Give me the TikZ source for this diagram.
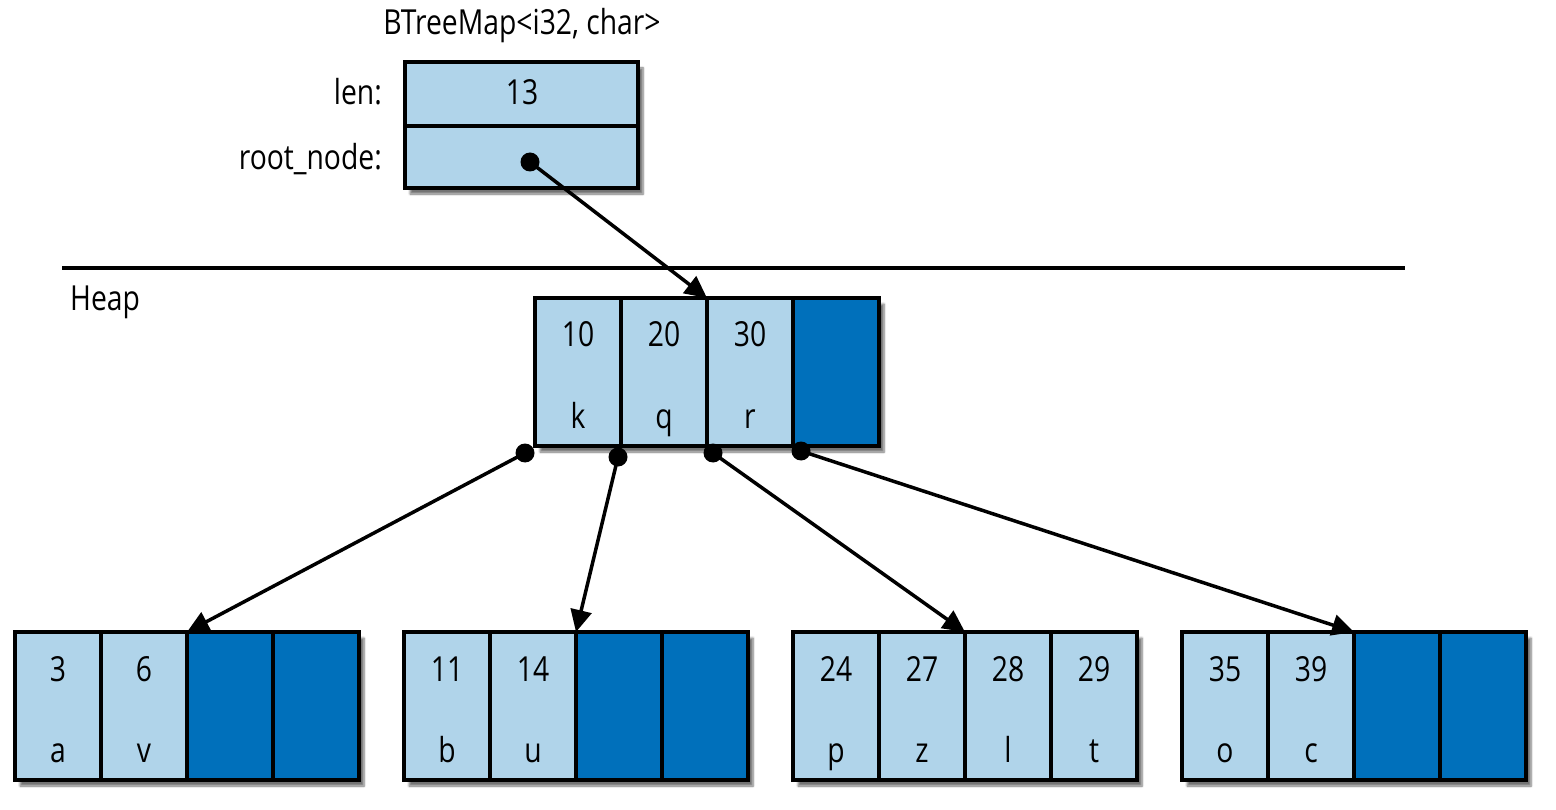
\documentclass[tikz,border=0pt]{standalone}
\usepackage{fontspec}
\setmainfont{Open Sans}[FakeStretch=0.82]
\usetikzlibrary{arrows.meta,shadows.blur}
\definecolor{light}{HTML}{B0D4EA}
\definecolor{dark}{HTML}{0070BB}
\begin{document}
\begin{tikzpicture}[x=1pt,y=-1pt,
 cell/.style={draw=black,line width=4.2pt,minimum width=86pt,minimum height=148pt,inner sep=0pt,outer sep=0pt,anchor=north west},
 full/.style={cell,fill=light},
 emptycell/.style={cell,fill=dark},
 frame/.style={draw=black,line width=4.2pt,fill=white,minimum height=148pt,minimum width=344pt,inner sep=0pt,outer sep=0pt,anchor=north west,
   blur shadow={shadow xshift=5pt,shadow yshift=-6pt,shadow blur steps=6,shadow opacity=55}},
 txt/.style={font=\fontsize{34.5}{40}\selectfont,inner sep=0pt,anchor=base},
 ptr/.style={line width=3.5pt,-{Triangle[length=22pt,width=21pt]}},
 dot/.style={circle,fill=black,minimum size=19pt,inner sep=0pt}
]
\useasboundingbox (0,0) rectangle (1556,810);

% ---- BTreeMap struct ----
\node[txt] (title) at (522,35) {BTreeMap<i32, char>};
\node[frame,minimum width=233pt,minimum height=126pt] (sframe) at (405,62) {};
\node[full,minimum width=233pt,minimum height=64pt] (lencell) at (405,62) {};
\node[full,minimum width=233pt,minimum height=62pt] (rootcell) at (405,126) {};
\node[txt] (lenval) at (522,105) {13};
\node[txt,anchor=base east] (lenlbl) at (382,105) {len:};
\node[txt,anchor=base east] (rootlbl) at (382,170) {root\_node:};
\node[dot] (sdot) at (530,162) {};

% ---- heap separator ----
\coordinate (hl) at (62,268);
\coordinate (hr) at (1405,268);
\draw[line width=3.8pt] (hl) -- (hr);
\node[txt,anchor=base west] (heap) at (70,311) {Heap};

% ---- root node ----
\node[frame] (rframe) at (535,298) {};
\node[full] (r1) at (535,298) {};
\node[full] (r2) at (621,298) {};
\node[full] (r3) at (707,298) {};
\node[emptycell] (r4) at (793,298) {};
\node[txt] (r1k) at (578,347) {10}; \node[txt] (r1v) at (578,428) {k};
\node[txt] (r2k) at (664,347) {20}; \node[txt] (r2v) at (664,428) {q};
\node[txt] (r3k) at (750,347) {30}; \node[txt] (r3v) at (750,428) {r};

% ---- child A ----
\node[frame] (aframe) at (15,632) {};
\node[full] (a1) at (15,632) {};
\node[full] (a2) at (101,632) {};
\node[emptycell] (a3) at (187,632) {};
\node[emptycell] (a4) at (273,632) {};
\node[txt] (a1k) at (58,681) {3}; \node[txt] (a1v) at (58,762) {a};
\node[txt] (a2k) at (144,681) {6}; \node[txt] (a2v) at (144,762) {v};

% ---- child B ----
\node[frame] (bframe) at (404,632) {};
\node[full] (b1) at (404,632) {};
\node[full] (b2) at (490,632) {};
\node[emptycell] (b3) at (576,632) {};
\node[emptycell] (b4) at (662,632) {};
\node[txt] (b1k) at (447,681) {11}; \node[txt] (b1v) at (447,762) {b};
\node[txt] (b2k) at (533,681) {14}; \node[txt] (b2v) at (533,762) {u};

% ---- child C ----
\node[frame] (cframe) at (793,632) {};
\node[full] (c1) at (793,632) {};
\node[full] (c2) at (879,632) {};
\node[full] (c3) at (965,632) {};
\node[full] (c4) at (1051,632) {};
\node[txt] (c1k) at (836,681) {24}; \node[txt] (c1v) at (836,762) {p};
\node[txt] (c2k) at (922,681) {27}; \node[txt] (c2v) at (922,762) {z};
\node[txt] (c3k) at (1008,681) {28}; \node[txt] (c3v) at (1008,762) {l};
\node[txt] (c4k) at (1094,681) {29}; \node[txt] (c4v) at (1094,762) {t};

% ---- child D ----
\node[frame] (dframe) at (1182,632) {};
\node[full] (d1) at (1182,632) {};
\node[full] (d2) at (1268,632) {};
\node[emptycell] (d3) at (1354,632) {};
\node[emptycell] (d4) at (1440,632) {};
\node[txt] (d1k) at (1225,681) {35}; \node[txt] (d1v) at (1225,762) {o};
\node[txt] (d2k) at (1311,681) {39}; \node[txt] (d2v) at (1311,762) {c};

% ---- pointers ----
\node[dot] (p1) at (525,453) {};
\node[dot] (p2) at (618,457) {};
\node[dot] (p3) at (713,453) {};
\node[dot] (p4) at (801,451) {};

\draw[ptr] (sdot.center) -- (r3.north west);
\draw[ptr] (p1.center) -- (a3.north west);
\draw[ptr] (p2.center) -- (b3.north west);
\draw[ptr] (p3.center) -- (c3.north west);
\draw[ptr] (p4.center) -- (d3.north west);
\end{tikzpicture}
\end{document}
